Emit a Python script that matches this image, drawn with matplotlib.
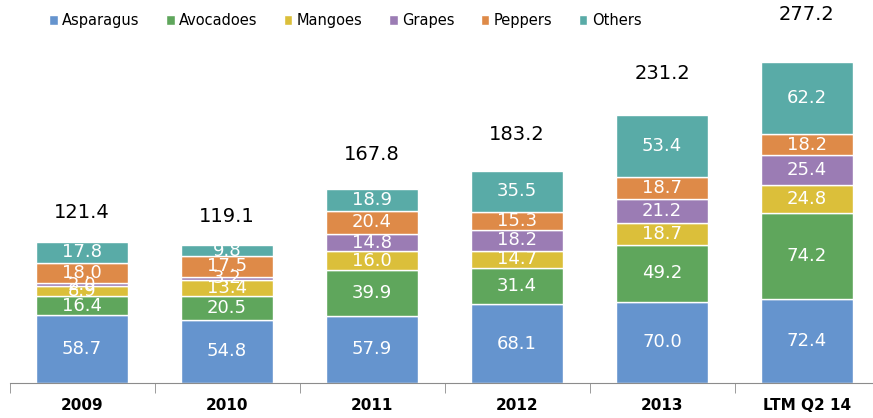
import numpy as np
import matplotlib.pyplot as plt

plt.rcParams['font.family'] = ['DejaVu Sans']

years = ['2009', '2010', '2011', '2012', '2013', 'LTM Q2 14']
products = ['Asparagus', 'Avocadoes', 'Mangoes', 'Grapes', 'Peppers', 'Others']
asparagus = [58.7, 54.8, 57.9, 68.1, 70.0, 72.4]
avocadoes = [16.4, 20.5, 39.9, 31.4, 49.2, 74.2]
mangoes = [8.9, 13.4, 16.0, 14.7, 18.7, 24.8]
grapes = [2.0, 3.2, 14.8, 18.2, 21.2, 25.4]
peppers = [18.0, 17.5, 20.4, 15.3, 18.7, 18.2]
others = [17.8, 9.8, 18.9, 35.5, 53.4, 62.2]
totals = [121.4, 119.1, 167.8, 183.2, 231.2, 277.2]

colors = ['#6594ce', '#5fa65c', '#dbbf3a', '#9b7cb4', '#de8a48', '#59aba7']

fig = plt.figure(figsize=(8.73, 4.18), dpi=100)
ax = fig.add_axes([9.5 / 873, 35 / 418, 870 / 873, 382 / 418])

x = np.arange(len(years))
series = [asparagus, avocadoes, mangoes, grapes, peppers, others]
bottom = np.zeros(len(years))
for name, vals, col in zip(products, series, colors):
    vals = np.array(vals)
    ax.bar(x, vals, 0.63, bottom=bottom, color=col, edgecolor='white',
           linewidth=1.0, label=name)
    for xi, b, v in zip(x, bottom, vals):
        ax.text(xi, b + v / 2, '%.1f' % v, ha='center', va='center',
                color='white', fontsize=13)
    bottom = bottom + vals

# totals above each stack
for xi, top, t in zip(x, bottom, totals):
    ax.text(xi, top + 13 + 0.1 * top, '%.1f' % t, ha='center', va='center',
            color='black', fontsize=14)

ax.set_xlim(-0.5, 5.5)
ax.set_ylim(0, 330)
ax.set_yticks([])
for s in ['top', 'right', 'left']:
    ax.spines[s].set_visible(False)
ax.spines['bottom'].set_color('#8c8c8c')
ax.set_xticks(x)
ax.set_xticklabels(years, fontweight='bold', fontsize=11)
ax.tick_params(axis='x', length=0, pad=11)
ax.set_xticks(np.arange(-0.5, 5.5, 1.0), minor=True)
ax.tick_params(axis='x', which='minor', length=7, color='#8c8c8c', direction='out')

fig.legend(loc='upper left', bbox_to_anchor=(0.041, 1.0), ncol=6, frameon=False,
           fontsize=10.5, handlelength=0.6, handleheight=0.6, handletextpad=0.3,
           columnspacing=1.8)

fig.savefig('out.png', dpi=100)
